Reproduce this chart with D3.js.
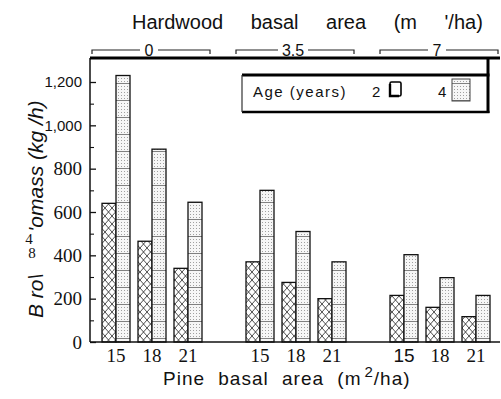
<!DOCTYPE html>
<html>
<head>
<meta charset="utf-8">
<script src="https://cdn.jsdelivr.net/npm/d3@7/dist/d3.min.js"></script>
<style>
  body { margin: 0; background: #fff; }
  svg { display: block; }
</style>
</head>
<body>
<svg id="chart" width="501" height="399"></svg>
<script>
// data
const hardwood = ["0", "3.5", "7"];
const pine = ["15", "18", "21"];
const ages = ["2", "4"];
// browse biomass (kg/ha) per hardwood level, one value per pine level
const age2Mass = [[640, 465, 340], [370, 275, 200], [215, 160, 117]];
const age4Mass = [[1230, 890, 645], [700, 510, 370], [403, 297, 215]];
const yTicks = [0, 200, 400, 600, 800, 1000, 1200];
const yTickLabels = ["0", "200", "400", "600", "800", "1,000", "1,200"];

const svg = d3.select("#chart");
const plotLeft = 90, plotRight = 500, plotTop = 58, baseY = 342;
const sans = "Liberation Sans, Arial, sans-serif";
const serif = "Liberation Serif, Times New Roman, serif";

function make_patterns(defs) {
    const hatch = defs.append("pattern")
        .attr("id", "hatch")
        .attr("patternUnits", "userSpaceOnUse")
        .attr("width", 7).attr("height", 8);
    hatch.append("rect").attr("width", 7).attr("height", 8).attr("fill", "#fff");
    hatch.append("path")
        .attr("d", "M0,0L7,8M7,0L0,8")
        .attr("stroke", "#222").attr("stroke-width", 0.8);

    const stip = defs.append("pattern")
        .attr("id", "stipple")
        .attr("patternUnits", "userSpaceOnUse")
        .attr("width", 12).attr("height", 17);
    stip.append("rect").attr("width", 12).attr("height", 17).attr("fill", "#f6f6f6");
    for (let i = 0; i < 4; i++) {
        for (let j = 0; j < 5; j++) {
            stip.append("rect")
                .attr("x", i * 3 + 1).attr("y", j * 3 + 1)
                .attr("width", 1).attr("height", 1)
                .attr("fill", "#a0a0a0");
        }
    }
    stip.append("line")
        .attr("x1", 0).attr("x2", 12).attr("y1", 15.5).attr("y2", 15.5)
        .attr("stroke", "#808080").attr("stroke-width", 1);
}

const defs = svg.append("defs");
make_patterns(defs);

// scales
const xGroup = d3.scaleBand().domain(hardwood).range([98, 494]).paddingInner(0.25);
const xPine = d3.scaleBand().domain(pine).range([0, xGroup.bandwidth()]).paddingInner(8 / 36).paddingOuter(4 / 36);
const xAge = d3.scaleBand().domain(ages).range([0, xPine.bandwidth()]);
const y = d3.scaleLinear().domain([0, 1200]).range([baseY, 82]);

// bars
const rows = [];
hardwood.forEach((h, gi) => {
    pine.forEach((p, pi) => {
        rows.push({ h: h, p: p, age: "2", v: age2Mass[gi][pi] });
        rows.push({ h: h, p: p, age: "4", v: age4Mass[gi][pi] });
    });
});

svg.append("g").attr("class", "bars")
    .selectAll("rect")
    .data(rows)
    .enter().append("rect")
    .attr("x", d => xGroup(d.h) + xPine(d.p) + xAge(d.age))
    .attr("y", d => y(d.v))
    .attr("width", xAge.bandwidth())
    .attr("height", d => baseY - y(d.v))
    .attr("fill", d => d.age === "2" ? "url(#hatch)" : "url(#stipple)")
    .attr("stroke", "#111")
    .attr("stroke-width", 1.3);

// y axis, ticks pointing inward
const yAxis = d3.axisLeft(y)
    .tickValues(yTicks)
    .tickFormat((d, i) => yTickLabels[i])
    .tickSize(-6)
    .tickPadding(8);
const yg = svg.append("g").attr("transform", `translate(${plotLeft},0)`).call(yAxis);
yg.select(".domain").remove();
yg.selectAll("line").attr("stroke", "#111").attr("stroke-width", 1.3);
yg.selectAll("text")
    .attr("fill", "#111")
    .style("font-family", d => d >= 1000 ? sans : serif)
    .style("font-size", d => d >= 1000 ? "15px" : "19px");

const yMinor = d3.axisLeft(y)
    .tickValues(d3.range(100, 1300, 200))
    .tickFormat("")
    .tickSize(-4);
const ym = svg.append("g").attr("transform", `translate(${plotLeft},0)`).call(yMinor);
ym.select(".domain").remove();
ym.selectAll("line").attr("stroke", "#111").attr("stroke-width", 1.1);

// frame lines
svg.append("line").attr("x1", plotLeft).attr("x2", plotLeft).attr("y1", plotTop).attr("y2", baseY)
    .attr("stroke", "#111").attr("stroke-width", 1.5);
svg.append("line").attr("x1", plotLeft).attr("x2", plotRight).attr("y1", baseY).attr("y2", baseY)
    .attr("stroke", "#111").attr("stroke-width", 1.5);
svg.append("line").attr("x1", plotLeft).attr("x2", plotRight).attr("y1", plotTop).attr("y2", plotTop)
    .attr("stroke", "#000").attr("stroke-width", 3);

// x tick labels
const xTicks = [];
hardwood.forEach((h, gi) => pine.forEach(p => xTicks.push({ h: h, p: p, gi: gi })));
svg.append("g").attr("class", "xticks")
    .selectAll("text")
    .data(xTicks)
    .enter().append("text")
    .attr("x", d => xGroup(d.h) + xPine(d.p) + xPine.bandwidth() / 2)
    .attr("y", 362)
    .attr("text-anchor", "middle")
    .style("font-family", d => (d.gi === 2 && d.p === "15") ? sans : serif)
    .style("font-size", d => (d.gi === 2 && d.p === "15") ? "19px" : "19px")
    .attr("fill", "#111")
    .text(d => d.p);

// x title
const xt = svg.append("text")
    .attr("x", 163).attr("y", 385)
    .style("font-family", sans)
    .style("font-size", "19px")
    .style("letter-spacing", "1px")
    .style("word-spacing", "7px")
    .attr("fill", "#111");
xt.append("tspan").text("Pine basal area (m");
xt.append("tspan").attr("dx", 3).attr("dy", -8).style("font-size", "15px").text("2");
xt.append("tspan").attr("dy", 8).text("/ha)");

// top title and hardwood brackets
svg.append("text")
    .attr("x", 132).attr("y", 29)
    .style("font-family", sans)
    .style("font-size", "20px")
    .style("word-spacing", "22px")
    .attr("fill", "#111")
    .text("Hardwood basal area (m '/ha)");

const brackets = svg.append("g").attr("class", "brackets");
hardwood.forEach(h => {
    const x0 = xGroup(h) - 6, x1 = xGroup(h) + xGroup.bandwidth() + 4;
    const cx = xGroup(h) + xGroup.bandwidth() / 2 - 3;
    const half = h.length > 1 ? 15 : 9;
    brackets.append("path")
        .attr("d", `M${x0},54V50H${cx - half}M${cx + half},50H${x1}V54`)
        .attr("fill", "none").attr("stroke", "#222").attr("stroke-width", 1.2);
    brackets.append("text")
        .attr("x", cx).attr("y", 55.5)
        .attr("text-anchor", "middle")
        .style("font-family", sans)
        .style("font-size", "16px")
        .attr("fill", "#111")
        .text(h);
});

// legend box
const lg = svg.append("g").attr("class", "legend");
lg.append("line").attr("x1", 242).attr("x2", 489.5).attr("y1", 75).attr("y2", 75)
    .attr("stroke", "#000").attr("stroke-width", 3);
lg.append("line").attr("x1", 242).attr("x2", 489.5).attr("y1", 112).attr("y2", 112)
    .attr("stroke", "#000").attr("stroke-width", 2.5);
lg.append("line").attr("x1", 488).attr("x2", 488).attr("y1", plotTop).attr("y2", 113)
    .attr("stroke", "#000").attr("stroke-width", 3);
lg.append("line").attr("x1", 242).attr("x2", 242).attr("y1", 75).attr("y2", 112)
    .attr("stroke", "#333").attr("stroke-width", 1.2);

lg.append("text").attr("x", 253).attr("y", 97)
    .style("font-family", sans).style("font-size", "15px")
    .style("letter-spacing", "1.5px").attr("fill", "#111")
    .text("Age (years)");
lg.append("text").attr("x", 372).attr("y", 97)
    .style("font-family", sans).style("font-size", "15px").attr("fill", "#111")
    .text(ages[0]);
lg.append("rect").attr("x", 390).attr("y", 82).attr("width", 11).attr("height", 14)
    .attr("rx", 1.5).attr("fill", "#fff").attr("stroke", "#000").attr("stroke-width", 1.6);
lg.append("path").attr("d", "M390,84V96H399")
    .attr("fill", "none").attr("stroke", "#000").attr("stroke-width", 2.4);
lg.append("text").attr("x", 438).attr("y", 97)
    .style("font-family", sans).style("font-size", "15px").attr("fill", "#111")
    .text(ages[1]);
lg.append("rect").attr("x", 452).attr("y", 79).attr("width", 18).attr("height", 22)
    .attr("fill", "url(#stipple)").attr("stroke", "#444").attr("stroke-width", 1);

// y title (as printed)
const yt = svg.append("text")
    .attr("transform", "translate(43,318) rotate(-90)")
    .style("font-family", sans)
    .style("font-size", "21px")
    .style("font-style", "italic")
    .attr("fill", "#111");
yt.append("tspan").text("B ro\\");
yt.append("tspan").attr("dx", 42).text("'omass (kg /h)");

svg.append("text").attr("x", 29).attr("y", 244).attr("text-anchor", "middle")
    .style("font-family", serif).style("font-size", "15px")
    .attr("fill", "#111").text("4");
svg.append("text").attr("x", 32).attr("y", 258).attr("text-anchor", "middle")
    .style("font-family", serif).style("font-size", "15px")
    .attr("fill", "#111").text("8");
</script>
</body>
</html>
